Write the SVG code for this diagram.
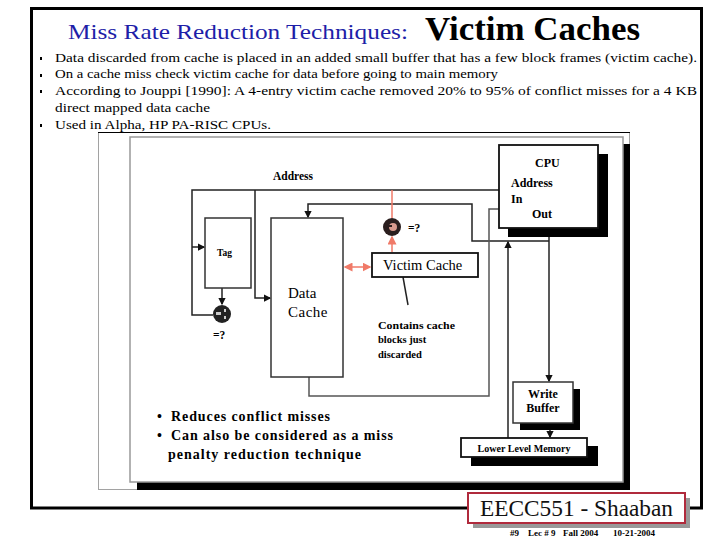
<svg xmlns="http://www.w3.org/2000/svg" width="720" height="540" viewBox="0 0 720 540">
<style>
.serif{font-family:"Liberation Serif","Times New Roman","DejaVu Serif",serif;}
.b{font-weight:bold;}
.ln{fill:none;stroke:#222;stroke-width:1.5;}
.lg{fill:none;stroke:#555;stroke-width:1.5;}
.sal{fill:none;stroke:#f07a68;stroke-width:1.5;}
.box{fill:#fff;stroke:#111;stroke-width:1.8;}
.shadow{fill:#000;}
</style>
<defs>
<marker id="ah" viewBox="0 0 6 6" refX="5" refY="3" markerWidth="5" markerHeight="5" orient="auto"><path d="M0,0 L6,3 L0,6 z" fill="#111"/></marker>
<marker id="as" viewBox="0 0 6 6" refX="5" refY="3" markerWidth="6" markerHeight="6" orient="auto"><path d="M0,0 L6,3 L0,6 z" fill="#f07a68"/></marker>
<marker id="ass" viewBox="0 0 6 6" refX="1" refY="3" markerWidth="6" markerHeight="6" orient="auto"><path d="M6,0 L0,3 L6,6 z" fill="#f07a68"/></marker>
</defs>
<rect width="720" height="540" fill="#fff"/>
<rect x="31.5" y="8.5" width="670" height="499.5" fill="none" stroke="#000" stroke-width="3"/>

<g id="title">
<text x="68" y="39" class="serif" font-size="22" fill="#1e1ea8" textLength="340" lengthAdjust="spacingAndGlyphs">Miss Rate Reduction Techniques:</text>
<text x="425" y="40" class="serif b" font-size="34" fill="#000" textLength="215" lengthAdjust="spacingAndGlyphs">Victim Caches</text>
</g>

<g id="bullets" class="serif" font-size="13.5" fill="#000">
<rect x="40" y="57" width="2" height="3"/>
<rect x="40" y="74" width="2" height="3"/>
<rect x="40" y="90" width="2" height="3"/>
<rect x="40" y="124" width="2" height="3"/>
<text x="55" y="62" textLength="642" lengthAdjust="spacingAndGlyphs">Data discarded from cache is placed  in an added small buffer that has a few block frames (victim cache).</text>
<text x="55" y="78" textLength="443" lengthAdjust="spacingAndGlyphs">On a cache miss check victim cache for data before going to main memory</text>
<text x="55" y="95" textLength="642" lengthAdjust="spacingAndGlyphs">According to Jouppi [1990]:  A 4-entry victim cache removed 20% to 95% of conflict misses for a 4 KB</text>
<text x="55" y="112" textLength="155" lengthAdjust="spacingAndGlyphs">direct mapped  data cache</text>
<text x="55" y="129" textLength="216" lengthAdjust="spacingAndGlyphs">Used in Alpha, HP PA-RISC  CPUs.</text>
</g>

<g id="panel">
<rect x="98.5" y="132.5" width="531" height="357" fill="#fff" stroke="#444" stroke-width="1" stroke-dasharray="1 1"/>
<line x1="98" y1="132.5" x2="630" y2="132.5" stroke="#000" stroke-width="1"/>
<rect x="137" y="144" width="493" height="346" class="shadow"/>
<rect x="130" y="137" width="493" height="345" fill="#fff" stroke="#999" stroke-width="1.5"/>
</g>

<g id="connectors">
<polyline class="ln" points="213,315 192,315 192,190 499,190"/>
<line class="ln" x1="192" y1="247" x2="204" y2="247" marker-end="url(#ah)"/>
<polyline class="ln" points="255,190 255,298 270,298" marker-end="url(#ah)"/>
<line class="ln" x1="222" y1="288" x2="222" y2="304" marker-end="url(#ah)"/>
<polyline class="ln" points="549,241 472,241 472,204 308,204 308,217" marker-end="url(#ah)"/>
<line class="ln" x1="549" y1="228" x2="549" y2="381" marker-end="url(#ah)"/>
<line class="ln" x1="508" y1="438" x2="508" y2="242" marker-end="url(#ah)"/>
<polyline class="lg" points="499,209 489,209 489,396 309,396 309,377"/>
<line class="ln" x1="550" y1="423" x2="550" y2="437" marker-end="url(#ah)"/>
<line class="sal" x1="392" y1="190" x2="392" y2="218"/>
<line class="sal" x1="392" y1="252" x2="392" y2="237" marker-end="url(#as)"/>
<line class="sal" x1="345" y1="267" x2="370" y2="267" marker-start="url(#ass)" marker-end="url(#as)"/>
<line class="ln" x1="403" y1="277" x2="408" y2="305"/>
</g>

<g id="cpu">
<rect x="508" y="154" width="100" height="83" class="shadow"/>
<rect x="499" y="145" width="99" height="83" class="box"/>
<g class="serif b" font-size="12" fill="#000">
<text x="535" y="167">CPU</text>
<text x="511" y="187">Address</text>
<text x="511" y="203">In</text>
<text x="532" y="218">Out</text>
</g>
</g>

<g id="address-label"><text x="273" y="180" class="serif b" font-size="11.5" fill="#000">Address</text></g>

<g id="tag">
<rect x="205" y="218" width="46" height="70" fill="#fff" stroke="#333" stroke-width="1.5"/>
<text x="217" y="256" class="serif b" font-size="9.5" fill="#000">Tag</text>
</g>

<g id="tag-compare">
<circle cx="222" cy="314" r="9" fill="#222"/>
<rect x="216" y="312" width="5" height="3" fill="#ccc"/>
<rect x="224" y="309" width="2" height="3" fill="#ccc"/>
<rect x="224" y="316" width="2" height="3" fill="#ccc"/>
<text x="213" y="339" class="serif b" font-size="11.5" fill="#000">=?</text>
</g>

<g id="data-cache">
<rect x="271" y="218" width="72" height="159" fill="#fff" stroke="#333" stroke-width="1.5"/>
<text x="288" y="298" class="serif" font-size="15" fill="#000">Data</text>
<text x="288" y="317" class="serif" font-size="15" fill="#000" letter-spacing="0.5">Cache</text>
</g>

<g id="victim-compare">
<circle cx="392" cy="227" r="9" fill="#2a1e1e"/>
<circle cx="393" cy="227" r="4" fill="#d89a8e"/>
<rect x="389" y="225" width="3" height="2" fill="#2a1e1e"/>
<text x="408" y="232" class="serif b" font-size="11.5" fill="#000">=?</text>
</g>

<g id="victim-cache">
<rect x="372" y="253" width="106" height="24" class="box"/>
<text x="383" y="270" class="serif" font-size="14.5" fill="#000">Victim Cache</text>
</g>

<g id="victim-note" class="serif b" font-size="10.5" fill="#000">
<text x="378" y="329" textLength="77" lengthAdjust="spacingAndGlyphs">Contains cache</text>
<text x="378" y="343">blocks just</text>
<text x="378" y="358">discarded</text>
</g>

<g id="write-buffer">
<rect x="520" y="389" width="60" height="41" class="shadow"/>
<rect x="513" y="382" width="60" height="41" fill="#fff" stroke="#333" stroke-width="1.5"/>
<text x="543" y="398" class="serif b" font-size="12" fill="#000" text-anchor="middle">Write</text>
<text x="543" y="412" class="serif b" font-size="12" fill="#000" text-anchor="middle">Buffer</text>
</g>

<g id="lower-memory">
<rect x="471" y="446" width="127" height="20" class="shadow"/>
<rect x="461" y="438" width="126" height="19" class="box"/>
<text x="524" y="452" class="serif b" font-size="9.5" fill="#000" text-anchor="middle" textLength="93" lengthAdjust="spacingAndGlyphs">Lower Level Memory</text>
</g>

<g id="notes" class="serif b" font-size="14" fill="#000">
<text x="157" y="421">•</text>
<text x="171" y="421" textLength="159" lengthAdjust="spacing">Reduces conflict misses</text>
<text x="157" y="440">•</text>
<text x="171" y="440" textLength="222" lengthAdjust="spacing">Can also be considered as a miss</text>
<text x="168" y="459" textLength="193" lengthAdjust="spacing">penalty reduction technique</text>
</g>

<g id="footer">
<rect x="473" y="498" width="217" height="30" fill="#999"/>
<rect x="468" y="493" width="217" height="30" fill="#fff" stroke="#b02a3c" stroke-width="2"/>
<text x="576.5" y="516" class="serif" font-size="23" fill="#111" text-anchor="middle" textLength="193" lengthAdjust="spacingAndGlyphs">EECC551 - Shaaban</text>
<g class="serif b" font-size="9" fill="#000">
<text x="510" y="536">#9</text>
<text x="528" y="536">Lec # 9</text>
<text x="563" y="536">Fall 2004</text>
<text x="613" y="536">10-21-2004</text>
</g>
</g>
</svg>
